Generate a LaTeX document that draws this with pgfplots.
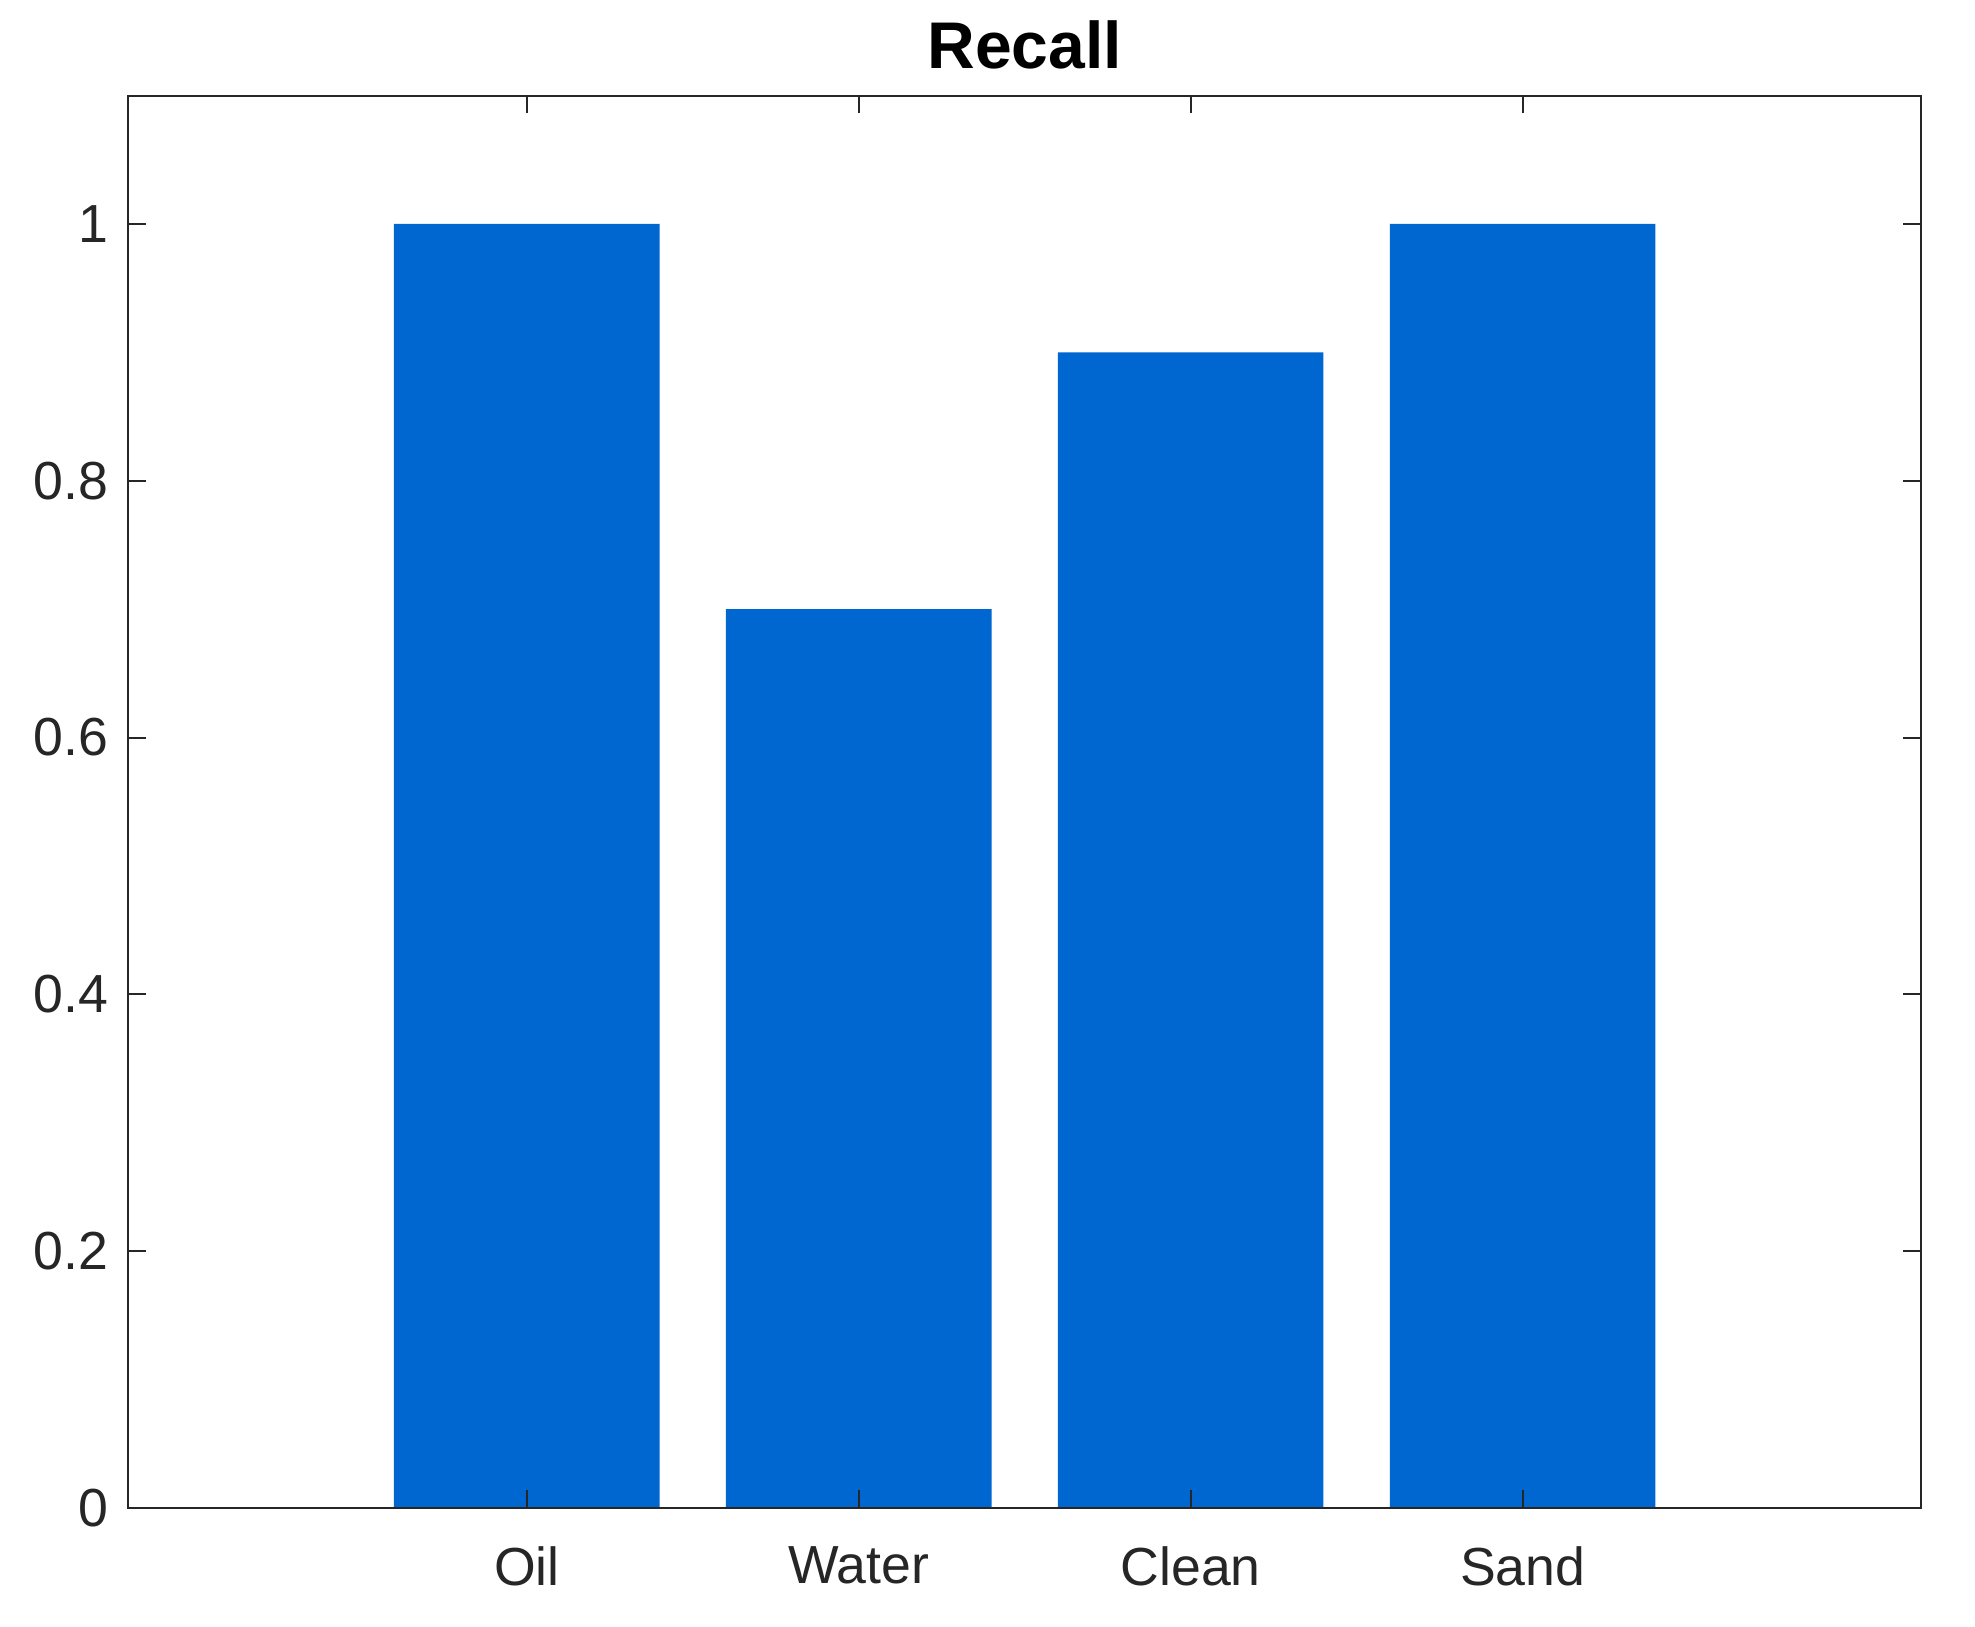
\documentclass[border=0pt]{standalone}
\usepackage{pgfplots}
\pgfplotsset{compat=1.18}
\usepackage{fontspec}
\setmainfont{Liberation Sans}
\definecolor{barblue}{HTML}{0066D0}
\definecolor{axgray}{HTML}{262626}
\begin{document}
\begin{tikzpicture}
\begin{axis}[
  width=448.1bp, height=353bp, scale only axis,
  xmin=-0.2, xmax=5.2, ymin=0, ymax=1.1,
  xtick={1,2,3,4}, xticklabels={Oil,Water,Clean,Sand},
  ytick={0,0.2,0.4,0.6,0.8,1},
  yticklabels={0,0.2,0.4,0.6,0.8,1},
  tick align=inside, tickwidth=4.4bp,
  xtick pos=both, ytick pos=both,
  axis line style={axgray, line width=0.5bp},
  major tick style={axgray, line width=0.5bp},
  tick label style={font=\fontsize{13.4bp}{15bp}\selectfont, text=axgray},
  xticklabel style={yshift=-6.2bp},
  yticklabel style={xshift=-1.5bp},
  title={\textbf{Recall}},
  title style={font=\fontsize{16.5bp}{19bp}\selectfont, yshift=-2.8bp},
  /pgf/number format/assume math mode=true,
  axis on top,
]
\addplot[ybar, bar width=0.8, fill=barblue, draw=none] coordinates {(1,1) (2,0.7) (3,0.9) (4,1)};
\end{axis}
\pgfresetboundingbox
\useasboundingbox ([shift={(-32.1bp,-29.6bp)}]current axis.south west) rectangle ([shift={(13.5bp,23.9bp)}]current axis.north east);
\end{tikzpicture}
\end{document}
